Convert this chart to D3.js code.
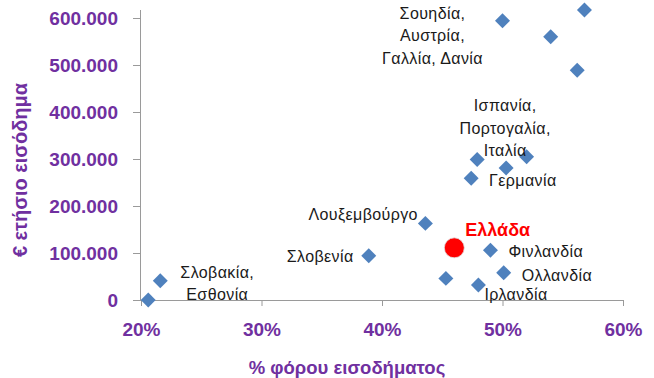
<!DOCTYPE html>
<html>
<head>
<meta charset="utf-8">
<script src="https://cdn.jsdelivr.net/npm/d3@7"></script>
<style>
  html, body { margin: 0; padding: 0; background: #fff; }
  svg { display: block; }
</style>
</head>
<body>
<svg id="chart" width="654" height="378"></svg>
<script>
// Top income tax rate (%) against the annual income (€) at which it applies
const taxRate = [56.8, 50.0, 54.0, 56.2,
  52.0, 47.9, 50.3, 47.4,
  43.6, 38.9, 49.0, 50.1, 48.0,
  45.3, 21.6, 20.6];
const income = [617000, 594000, 560000, 489000,
  305000, 299000, 281000, 259000,
  163000, 94000, 106000, 58000, 32000,
  46000, 41000, 0];

// Greece, highlighted
const greeceRate = [46.0];
const greeceIncome = [111000];

const xTicks = [20, 30, 40, 50, 60];
const yTicks = [0, 100000, 200000, 300000, 400000, 500000, 600000];

// Label blocks (text lines) and the index of the point each block sits next to
const labelLines = [
  ["Σουηδία,", "Αυστρία,", "Γαλλία, Δανία"],
  ["Ισπανία,", "Πορτογαλία,", "Ιταλία"],
  ["Γερμανία"],
  ["Λουξεμβούργο"],
  ["Σλοβενία"],
  ["Φινλανδία"],
  ["Ολλανδία"],
  ["Ιρλανδία"],
  ["Σλοβακία,", "Εσθονία"]
];
const labelPoint = [1, 5, 6, 8, 9, 10, 11, 12, 14];

const svg = d3.select("#chart");
const purple = "#7030A0";
const blue = "#4F81BD";
const textFont = "'Liberation Sans', Arial, sans-serif";

const x = d3.scaleLinear().domain([20, 60]).range([141, 623]);
const y = d3.scaleLinear().domain([0, 600000]).range([300, 18]);

const fmtY = v => v === 0 ? "0" : d3.format(",")(v).replace(/,/g, ".");

// Y axis
const yAxis = svg.append("g")
  .attr("transform", `translate(${x(20)},0)`)
  .call(d3.axisLeft(y).tickValues(yTicks).tickSize(8).tickPadding(15).tickFormat(fmtY));
yAxis.select(".domain").attr("stroke", "#9a9a9a").attr("d", `M-0.5,${y(0)}V${y(600000) - 8}`);
yAxis.selectAll(".tick line").attr("stroke", "#9a9a9a");
yAxis.selectAll(".tick text")
  .attr("fill", purple).attr("font-family", textFont)
  .attr("font-size", 19).attr("font-weight", "bold");

// X axis
const xAxis = svg.append("g")
  .attr("transform", `translate(0,${y(0)})`)
  .call(d3.axisBottom(x).tickValues(xTicks).tickSize(6).tickPadding(17).tickFormat(d => d + "%"));
xAxis.select(".domain").attr("stroke", "#9a9a9a").attr("d", `M${x(20)},0.5H${x(60)}`);
xAxis.selectAll(".tick line").attr("stroke", "#9a9a9a");
xAxis.selectAll(".tick text")
  .attr("fill", purple).attr("font-family", textFont)
  .attr("font-size", 19).attr("font-weight", "bold");

// Axis titles
svg.append("text")
  .attr("x", 347).attr("y", 374)
  .attr("text-anchor", "middle")
  .attr("fill", purple).attr("font-family", textFont)
  .attr("font-size", 18.5).attr("font-weight", "bold")
  .text("% φόρου εισοδήματος");

svg.append("text")
  .attr("transform", "translate(27,170) rotate(-90)")
  .attr("text-anchor", "middle")
  .attr("fill", purple).attr("font-family", textFont)
  .attr("font-size", 20).attr("font-weight", "bold")
  .text("€ ετήσιο εισόδημα");

// Diamond markers
const diamond = d3.symbol().type(d3.symbolSquare).size(112);
svg.append("g").selectAll("path")
  .data(taxRate.map((r, i) => ({ r, v: income[i] })))
  .join("path")
  .attr("d", diamond)
  .attr("transform", d => `translate(${x(d.r)},${y(d.v)}) rotate(45)`)
  .attr("fill", blue);

// Greece marker and label
svg.append("circle")
  .attr("cx", x(greeceRate[0])).attr("cy", y(greeceIncome[0]))
  .attr("r", 10).attr("fill", "#FF0000")
  .attr("stroke", "#e0e0e0").attr("stroke-width", 0.8);
svg.append("text")
  .attr("x", x(greeceRate[0]) + 11).attr("y", y(greeceIncome[0]) - 12)
  .attr("fill", "#FF0000").attr("font-family", textFont)
  .attr("font-size", 18).attr("font-weight", "bold")
  .text("Ελλάδα");

// Country labels, offset from the point they are attached to
const labelPlace = [
  { dx: -70, dy: -2, anchor: "middle" },
  { dx: 28, dy: -48, anchor: "middle" },
  { dx: -17, dy: 18, anchor: "start" },
  { dx: -117, dy: -3, anchor: "start" },
  { dx: -82, dy: 6, anchor: "start" },
  { dx: 18, dy: 7, anchor: "start" },
  { dx: 18, dy: 8, anchor: "start" },
  { dx: 6, dy: 15, anchor: "start" },
  { dx: 57, dy: -3, anchor: "middle" }
];
const lineGap = 22.5;
labelPlace.forEach((p, k) => {
  const i = labelPoint[k];
  const px = x(taxRate[i]), py = y(income[i]);
  const t = svg.append("text")
    .attr("font-family", textFont).attr("font-size", 16)
    .attr("letter-spacing", 0.4)
    .attr("fill", "#1a1a1a")
    .attr("text-anchor", p.anchor);
  labelLines[k].forEach((line, j) => {
    t.append("tspan")
      .attr("x", px + p.dx)
      .attr("y", py + p.dy + j * lineGap)
      .text(line);
  });
});
</script>
</body>
</html>
